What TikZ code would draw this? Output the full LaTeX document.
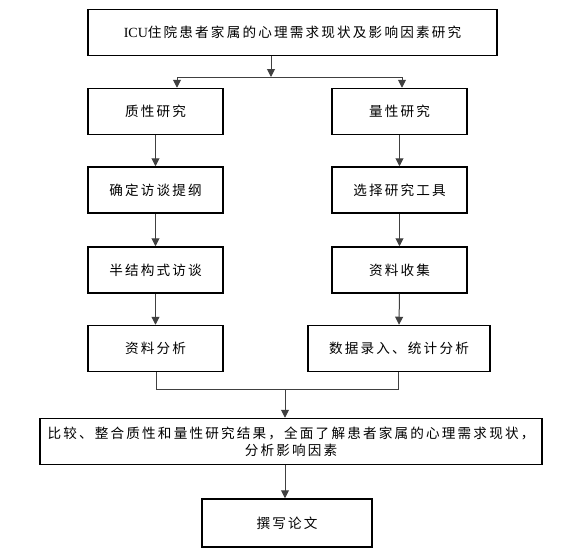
\documentclass[tikz,border=0pt]{standalone}
\usepackage{fontspec}
\setmainfont{Liberation Serif}
\newfontfamily\cjk[LetterSpace=16]{Noto Sans CJK SC}
\usetikzlibrary{arrows.meta}
\begin{document}
\begin{tikzpicture}[x=1pt,y=-1pt,
  boxnode/.style={draw=black,line width=1.5pt,rectangle,minimum height=46pt,inner sep=2pt,font=\fontsize{13.6}{17}\selectfont\cjk,align=center},
  conn/.style={draw=black!75,line width=1pt},
  arr/.style={conn,-{Triangle[length=8pt,width=8pt]}}]
\useasboundingbox (0,0) rectangle (566,555);
\node[boxnode,minimum width=409pt] (top) at (292.5,32.5) {{\rmfamily\fontsize{14}{17}\selectfont ICU}住院患者家属的心理需求现状及影响因素研究};
\node[boxnode,minimum width=135pt] (q1) at (155.5,111.5) {质性研究};
\node[boxnode,minimum width=135pt] (l1) at (399.5,111.5) {量性研究};
\node[boxnode,minimum width=135pt] (q2) at (155.5,190) {确定访谈提纲};
\node[boxnode,minimum width=135pt] (l2) at (399.5,190) {选择研究工具};
\node[boxnode,minimum width=135pt] (q3) at (155.5,270) {半结构式访谈};
\node[boxnode,minimum width=135pt] (l3) at (399.5,270) {资料收集};
\node[boxnode,minimum width=135pt] (q4) at (155.5,348.5) {资料分析};
\node[boxnode,minimum width=182pt] (l4) at (399,348.5) {数据录入、统计分析};
\node[boxnode,minimum width=502pt,font=\fontsize{13.6}{17}\selectfont\cjk] (big) at (291,441.5) {比较、整合质性和量性研究结果，全面了解患者家属的心理需求现状，\\分析影响因素};
\node[boxnode,minimum width=170pt,minimum height=48pt] (fin) at (287,523) {撰写论文};
% split from title
\coordinate (s) at (271,77);
\coordinate (sl) at (177,77);
\coordinate (sr) at (402,77);
\draw[arr] (top.south -| s) -- (s);
\draw[conn] (sl) -- (sr);
\draw[arr] (sl) -- (q1.north -| sl);
\draw[arr] (sr) -- (l1.north -| sr);
% columns
\draw[arr] (q1.south) -- (q2.north);
\draw[arr] (q2.south) -- (q3.north);
\draw[arr] (q3.south) -- (q4.north);
\draw[arr] (l1.south) -- (l2.north);
\draw[arr] (l2.south) -- (l3.north);
\draw[arr] (l3.south) -- (l4.north);
% merge
\coordinate (ml) at (156,389);
\coordinate (mr) at (398,389);
\coordinate (m) at (285,389);
\draw[conn] (q4.south -| ml) -- (ml) -- (mr) -- (l4.south -| mr);
\draw[arr] (m) -- (big.north -| m);
\draw[arr] (big.south -| m) -- (fin.north -| m);
\end{tikzpicture}
\end{document}
